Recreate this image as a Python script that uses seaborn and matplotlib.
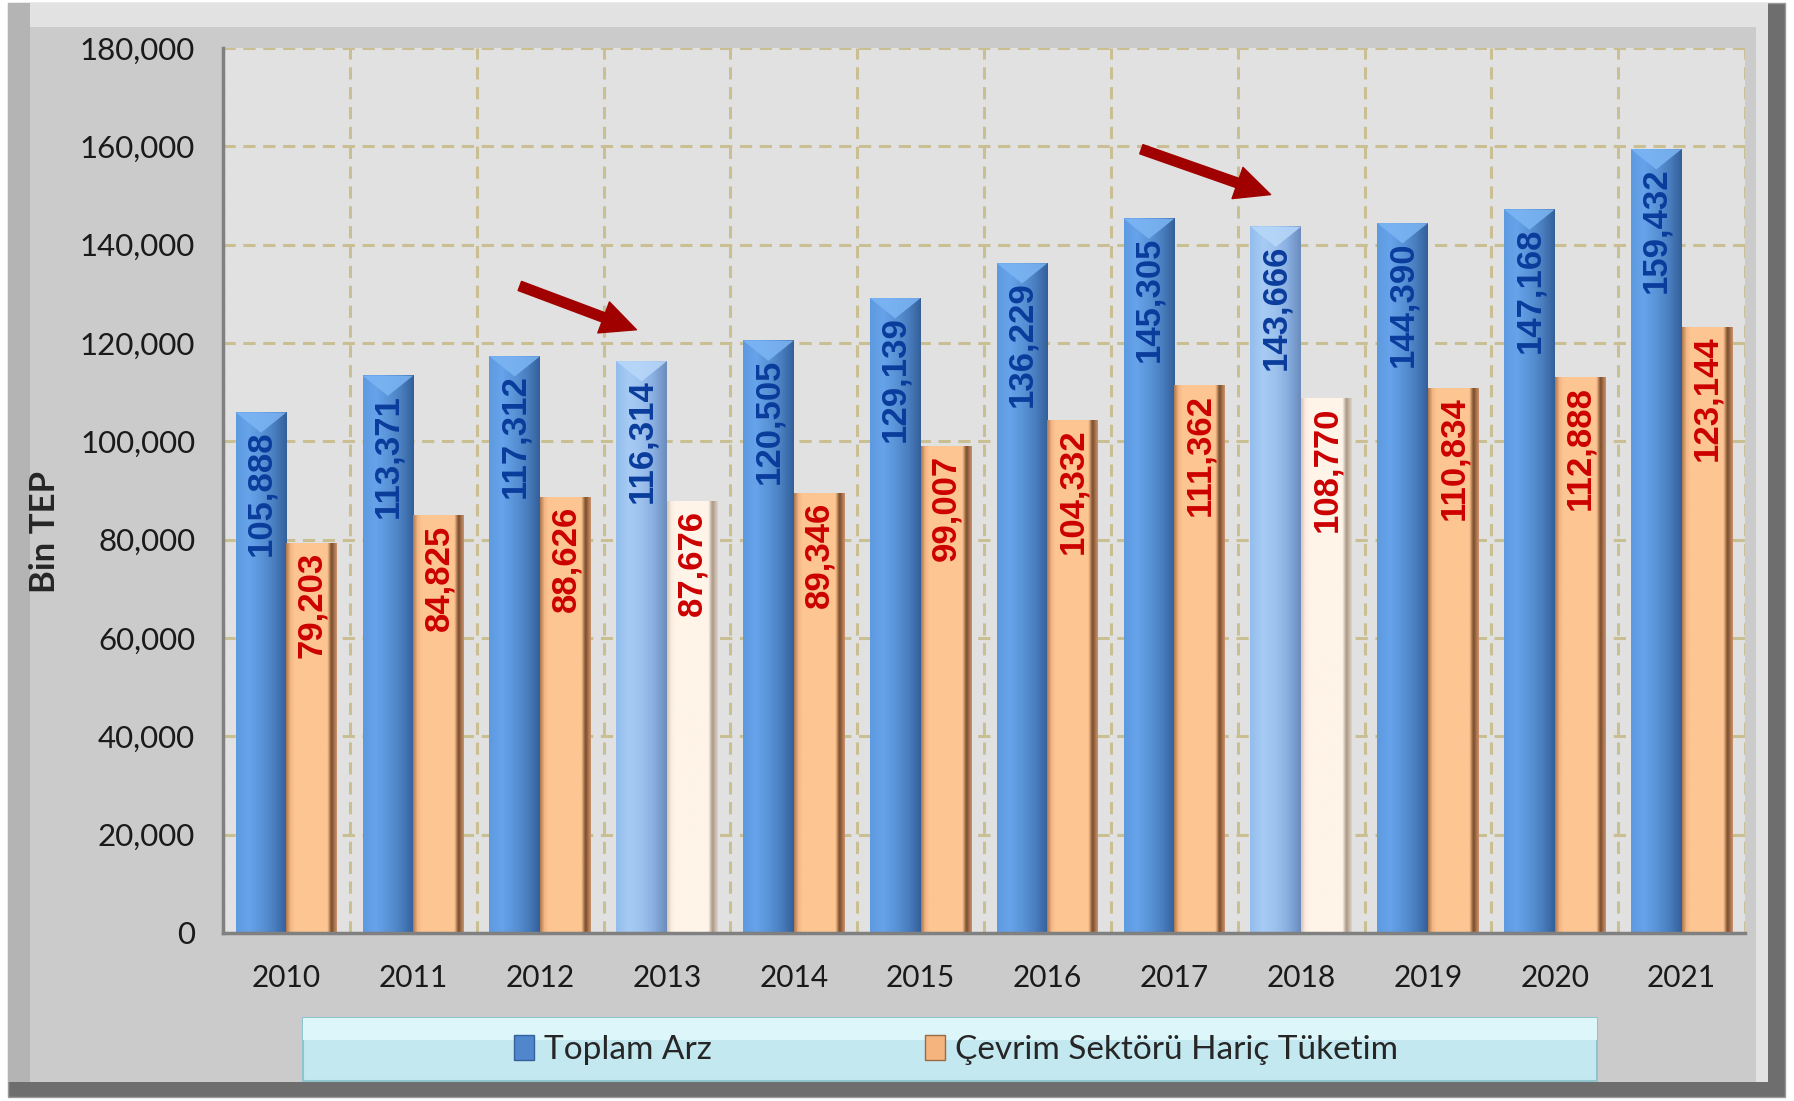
import matplotlib
matplotlib.use('Agg')
import matplotlib.pyplot as plt
import matplotlib.patches as mpatches
from matplotlib.colors import LinearSegmentedColormap
import numpy as np
import pandas as pd
import seaborn as sns

# Data
years = ['2010', '2011', '2012', '2013', '2014', '2015',
         '2016', '2017', '2018', '2019', '2020', '2021']
toplam_arz = [105888, 113371, 117312, 116314, 120505, 129139,
              136229, 145305, 143666, 144390, 147168, 159432]
cevrim_haric = [79203, 84825, 88626, 87676, 89346, 99007,
                104332, 111362, 108770, 110834, 112888, 123144]
series_names = ['Toplam Arz', 'Çevrim Sektörü Hariç Tüketim']
highlight_years = ['2013', '2018']

df = pd.DataFrame({
    'year': years * 2,
    'value': toplam_arz + cevrim_haric,
    'series': [series_names[0]] * len(years) + [series_names[1]] * len(years),
})

# Colour ramps (left -> right across a bar)
blue_cmap = LinearSegmentedColormap.from_list(
    'b', ['#5d9ae0', '#66a3ea', '#5a94d8', '#4a7fc0', '#34609a'])
blue_hl_cmap = LinearSegmentedColormap.from_list(
    'bh', ['#94bdee', '#a6cbf4', '#9ec2ee', '#88aee0', '#6b8cbc'])
orange_cmap = LinearSegmentedColormap.from_list(
    'o', [(0, '#b07a50'), (0.08, '#f2b583'), (0.16, '#fdc592'),
          (0.82, '#fdc592'), (0.9, '#7a4c2a'), (1, '#c8906a')])
orange_hl_cmap = LinearSegmentedColormap.from_list(
    'oh', [(0, '#d8c8b8'), (0.08, '#fbeee0'), (0.16, '#fff4e8'),
           (0.82, '#fff4e8'), (0.9, '#a89888'), (1, '#e0d0c0')])


def shade_bar(ax, patch, cmap, cap_color=None):
    x, y = patch.get_x(), patch.get_y()
    w, h = patch.get_width(), patch.get_height()
    grad = np.linspace(0, 1, 64).reshape(1, -1)
    ax.imshow(grad, cmap=cmap, extent=[x, x + w, y, y + h],
              aspect='auto', zorder=2, interpolation='bilinear')
    patch.set_visible(False)
    if cap_color:
        # bevelled top: light chevron, depth ~ 40% of the bar width in pixels
        p0 = ax.transData.transform((x, y + h))
        p1 = ax.transData.transform((x + w, y + h))
        depth_px = 0.4 * (p1[0] - p0[0])
        tip = ax.transData.inverted().transform((p0[0] + (p1[0] - p0[0]) / 2, p0[1] - depth_px))
        ax.add_patch(mpatches.Polygon([(x, y + h), (x + w, y + h), (tip[0], tip[1])],
                                      closed=True, facecolor=cap_color,
                                      edgecolor='none', alpha=0.85, zorder=2.5))


def main():
    sns.set_style('white')
    plt.rcParams['font.family'] = ['Lato', 'DejaVu Sans']

    fig = plt.figure(figsize=(17.94, 11.01), dpi=100)
    fig.patch.set_facecolor('white')

    # Beveled outer frame
    fig.add_artist(mpatches.Rectangle((0.0045, 0.0036), 0.9905, 0.9934,
                                      transform=fig.transFigure,
                                      facecolor='#6e6e6e', edgecolor='#9a9a9a',
                                      linewidth=1, zorder=0))
    fig.add_artist(mpatches.Rectangle((0.0045, 0.0173), 0.981, 0.9797,
                                      transform=fig.transFigure,
                                      facecolor='#e2e2e2', edgecolor='none', zorder=0))
    fig.add_artist(mpatches.Rectangle((0.0045, 0.0173), 0.0122, 0.9797,
                                      transform=fig.transFigure,
                                      facecolor='#b4b4b4', edgecolor='none', zorder=0))
    fig.add_artist(mpatches.Rectangle((0.0167, 0.0173), 0.962, 0.958,
                                      transform=fig.transFigure,
                                      facecolor='#cbcbcb', edgecolor='none', zorder=0))

    ax = fig.add_axes([0.1243, 0.1526, 0.8484, 0.8038])
    ax.set_facecolor('#e1e1e1')

    sns.barplot(data=df, x='year', y='value', hue='series', order=years,
                hue_order=series_names, palette=['#5a94d8', '#fdc592'],
                width=0.8, gap=0, ax=ax, legend=False, zorder=2)

    ax.set_xlim(-0.5, 11.5)
    ax.set_ylim(0, 180000)

    blue_bars, orange_bars = ax.containers[0], ax.containers[1]
    for yr, p in zip(years, blue_bars):
        hl = yr in highlight_years
        shade_bar(ax, p, blue_hl_cmap if hl else blue_cmap,
                  cap_color='#b8d8fa' if hl else '#7db6f4')
    for yr, p in zip(years, orange_bars):
        shade_bar(ax, p, orange_hl_cmap if yr in highlight_years else orange_cmap)

    # Value labels inside bars
    for p, v in zip(blue_bars, toplam_arz):
        ax.annotate(f'{v:,}', (p.get_x() + p.get_width() / 2, p.get_height()),
                    xytext=(0, -13), textcoords='offset points',
                    rotation=90, ha='center', va='top', fontsize=25,
                    fontweight='bold', color='#0a3c9c',
                    family='Liberation Sans', zorder=4)
    for p, v in zip(orange_bars, cevrim_haric):
        ax.annotate(f'{v:,}', (p.get_x() + p.get_width() / 2, p.get_height()),
                    xytext=(0, -6), textcoords='offset points',
                    rotation=90, ha='center', va='top', fontsize=25,
                    fontweight='bold', color='#cc0000',
                    family='Liberation Sans', zorder=4)

    # Arrows pointing at 2013 and 2018
    arrow_kw = dict(arrowstyle='simple,head_length=1.8,head_width=1.7,tail_width=0.5',
                    color='#a00000', mutation_scale=14)
    ax.annotate('', xy=(2.78, 122500), xytext=(1.82, 131800),
                arrowprops=arrow_kw, zorder=5)
    ax.annotate('', xy=(7.78, 150000), xytext=(6.72, 159600),
                arrowprops=arrow_kw, zorder=5)

    ax.set_xlim(-0.5, 11.5)
    ax.set_ylim(0, 180000)
    ax.set_yticks(np.arange(0, 180001, 20000))
    ax.yaxis.set_major_formatter(matplotlib.ticker.FuncFormatter(lambda v, _: f'{int(v):,}'))
    ax.set_xticks(np.arange(-0.5, 12, 1), minor=True)

    grid_kw = dict(color='#c9bf93', linestyle=(0, (4, 2.5)), linewidth=2.2)
    ax.grid(axis='y', which='major', **grid_kw)
    ax.grid(axis='x', which='minor', **grid_kw)
    ax.grid(axis='x', which='major', visible=False)
    ax.set_axisbelow(True)

    for s in ['top', 'right']:
        ax.spines[s].set_visible(False)
    for s in ['left', 'bottom']:
        ax.spines[s].set_color('#808080')
        ax.spines[s].set_linewidth(2.5)
        ax.spines[s].set_zorder(3)

    ax.tick_params(axis='y', which='major', length=10, width=2.5, color='#808080',
                   labelsize=22.5, labelcolor='#1a1a1a', pad=10)
    ax.tick_params(axis='x', which='major', length=0, labelsize=21.5,
                   labelcolor='#1a1a1a', pad=22)
    ax.tick_params(axis='x', which='minor', length=10, width=2.5, color='#808080')

    ax.set_xlabel('')
    ax.set_ylabel('Bin TEP', fontsize=25, fontweight='bold')
    ax.yaxis.set_label_coords(-0.1065, 0.453)

    # Legend with light cyan box
    fig.add_artist(mpatches.FancyBboxPatch((0.169, 0.018), 0.721, 0.057,
                                           boxstyle='square,pad=0',
                                           transform=fig.transFigure,
                                           facecolor='#c4e8ef', edgecolor='#8fc4cc',
                                           linewidth=1.5, zorder=1))
    fig.add_artist(mpatches.Rectangle((0.169, 0.055), 0.721, 0.02,
                                      transform=fig.transFigure,
                                      facecolor='#dcf6fa', edgecolor='none', zorder=1))
    handles = [mpatches.Patch(facecolor='#4f86cc', edgecolor='#35609a'),
               mpatches.Patch(facecolor='#f5b47e', edgecolor='#9a6a45')]
    fig.legend(handles, series_names, loc='center',
               bbox_to_anchor=(0.533, 0.0465), ncol=2, frameon=False,
               fontsize=24, handlelength=0.6, handleheight=0.8,
               handletextpad=0.3, columnspacing=6.4)

    fig.savefig('out.png', dpi=100, facecolor=fig.get_facecolor())


if __name__ == '__main__':
    main()
